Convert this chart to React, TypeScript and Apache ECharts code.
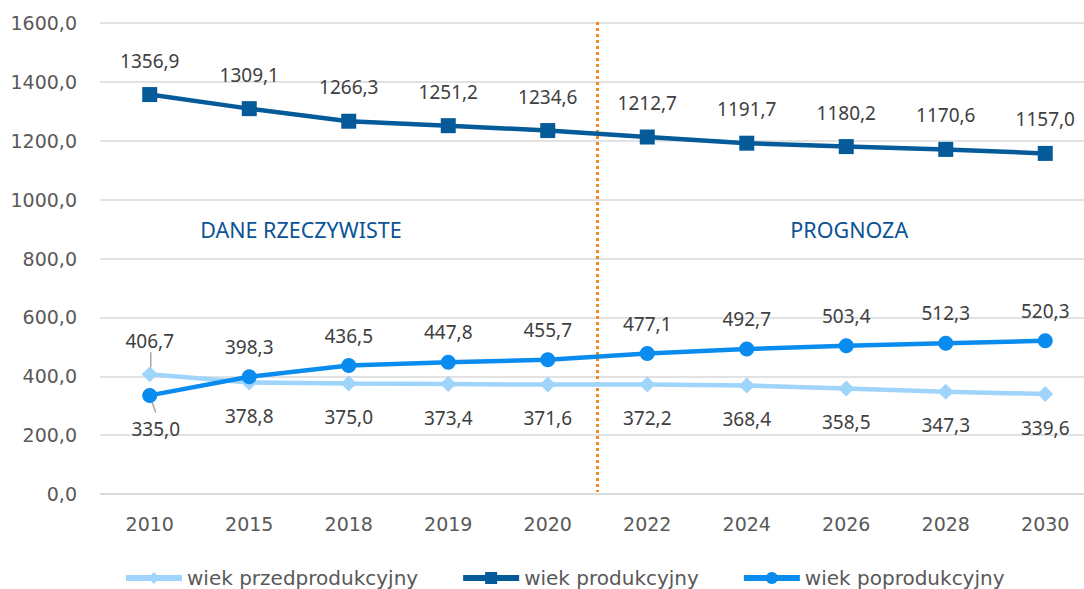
import React, { useEffect, useRef } from "react";
import * as echarts from "echarts";

const categories = ["2010", "2015", "2018", "2019", "2020", "2022", "2024", "2026", "2028", "2030"];
const przedprodukcyjny = [406.7, 378.8, 375.0, 373.4, 371.6, 372.2, 368.4, 358.5, 347.3, 339.6];
const produkcyjny = [1356.9, 1309.1, 1266.3, 1251.2, 1234.6, 1212.7, 1191.7, 1180.2, 1170.6, 1157.0];
const poprodukcyjny = [335.0, 398.3, 436.5, 447.8, 455.7, 477.1, 492.7, 503.4, 512.3, 520.3];
const seriesNames = ["wiek przedprodukcyjny", "wiek produkcyjny", "wiek poprodukcyjny"];
const periodLabels = ["DANE RZECZYWISTE", "PROGNOZA"];
const lastActualIndex = 4; // 2020, the forecast starts after it

const FONT = "Noto Sans";
const AXFONT = "DejaVu Sans";
const fmt = (v: number) => v.toFixed(1).replace(".", ",");

export default function App() {
  const ref = useRef<HTMLDivElement>(null);
  useEffect(() => {
    if (!ref.current) return;
    const chart = echarts.init(ref.current, undefined, { renderer: "svg" });
    const labelBase = {
      show: true,
      fontFamily: FONT,
      fontSize: 19,
      color: "#404040",
      formatter: (p: any) => fmt(typeof p.value === "number" ? p.value : p.data.value),
    };
    const przedData = przedprodukcyjny.map((v, i) =>
      i === 0 ? { value: v, label: { position: "top", distance: 5 } } : v
    );
    const poData = poprodukcyjny.map((v, i) =>
      i === 0 ? { value: v, label: { position: "bottom", distance: 5 } } : v
    );
    chart.setOption({
      animation: false,
      textStyle: { fontFamily: FONT },
      grid: { left: 100, top: 23, width: 995, height: 471, outerBoundsMode: "none", containLabel: false },
      legend: {
        left: 118,
        top: 563,
        itemWidth: 56,
        itemHeight: 15,
        itemGap: 42,
        lineStyle: { width: 6 },
        textStyle: { fontFamily: AXFONT, fontSize: 20, color: "#595959" },
        data: seriesNames,
      },
      xAxis: {
        type: "category",
        data: categories,
        boundaryGap: true,
        axisLine: { show: true, lineStyle: { color: "#D9D9D9", width: 1.5 } },
        axisTick: { show: false },
        axisLabel: { fontFamily: AXFONT, fontSize: 19, color: "#595959", margin: 20 },
      },
      yAxis: {
        type: "value",
        min: 0,
        max: 1600,
        interval: 200,
        axisLine: { show: false },
        axisTick: { show: false },
        splitLine: { lineStyle: { color: "#D9D9D9", width: 1.5 } },
        axisLabel: { fontFamily: AXFONT, fontSize: 19, color: "#595959", margin: 23, formatter: (v: number) => fmt(v) },
      },
      series: [
        {
          name: seriesNames[0],
          type: "line",
          data: przedData,
          symbol: "diamond",
          symbolSize: 16,
          lineStyle: { width: 4.5, color: "#9FD4FB" },
          itemStyle: { color: "#9FD4FB" },
          label: { ...labelBase, position: "bottom", distance: 16 },
          labelLayout: (p: any) => (p.dataIndex === 0 ? { dy: -11 } : {}),
          z: 2,
        },
        {
          name: seriesNames[1],
          type: "line",
          data: produkcyjny,
          symbol: "rect",
          symbolSize: 15,
          lineStyle: { width: 4.5, color: "#055A9A" },
          itemStyle: { color: "#055A9A" },
          label: { ...labelBase, position: "top", distance: 17 },
          z: 3,
        },
        {
          name: seriesNames[2],
          type: "line",
          data: poData,
          symbol: "circle",
          symbolSize: 15,
          lineStyle: { width: 4.5, color: "#0A8CEF" },
          itemStyle: { color: "#0A8CEF" },
          label: { ...labelBase, position: "top", distance: 13 },
          labelLayout: (p: any) => (p.dataIndex === 0 ? { dy: 12, dx: 6 } : {}),
          z: 4,
        },
      ],
    });
    const px = (i: number, v: number) =>
      chart.convertToPixel({ xAxisIndex: 0, yAxisIndex: 0 }, [i, v]) as number[];
    // divider between actual data and forecast, placed from the axis scale
    const a = px(lastActualIndex, 1600);
    const b = px(lastActualIndex + 1, 0);
    const divX = (a[0] + b[0]) / 2;
    const leftCenter = (px(1, 0)[0] + px(2, 0)[0]) / 2;
    const rightCenter = px(7, 0)[0] + 3;
    const textY = px(0, 900)[1];
    const przed0 = px(0, przedprodukcyjny[0]);
    const po0 = px(0, poprodukcyjny[0]);
    const leaderStyle = { stroke: "#A6A6A6", lineWidth: 1.5 };
    chart.setOption({
      graphic: [
        {
          type: "line",
          shape: { x1: divX, y1: a[1] - 1, x2: divX, y2: b[1] - 2 },
          style: { stroke: "#F08A24", lineWidth: 3, lineDash: [3, 3] },
          z: 1,
        },
        {
          type: "line",
          shape: { x1: przed0[0] + 1, y1: przed0[1] - 7, x2: przed0[0] + 1, y2: przed0[1] - 22 },
          style: leaderStyle,
          z: 1,
        },
        {
          type: "line",
          shape: { x1: po0[0] + 1, y1: po0[1] + 3, x2: po0[0] + 6, y2: po0[1] + 17 },
          style: leaderStyle,
          z: 1,
        },
        {
          type: "text",
          x: leftCenter + 2,
          y: textY,
          style: { text: periodLabels[0], fontFamily: FONT, fontSize: 21.5, fill: "#0B5394", align: "center", verticalAlign: "middle" },
        },
        {
          type: "text",
          x: rightCenter,
          y: textY,
          style: { text: periodLabels[1], fontFamily: FONT, fontSize: 21.5, fill: "#0B5394", align: "center", verticalAlign: "middle" },
        },
      ],
    });
    return () => chart.dispose();
  }, []);
  return <div ref={ref} style={{ position: "absolute", left: 0, top: 0, width: 1084, height: 589 }} />;
}
